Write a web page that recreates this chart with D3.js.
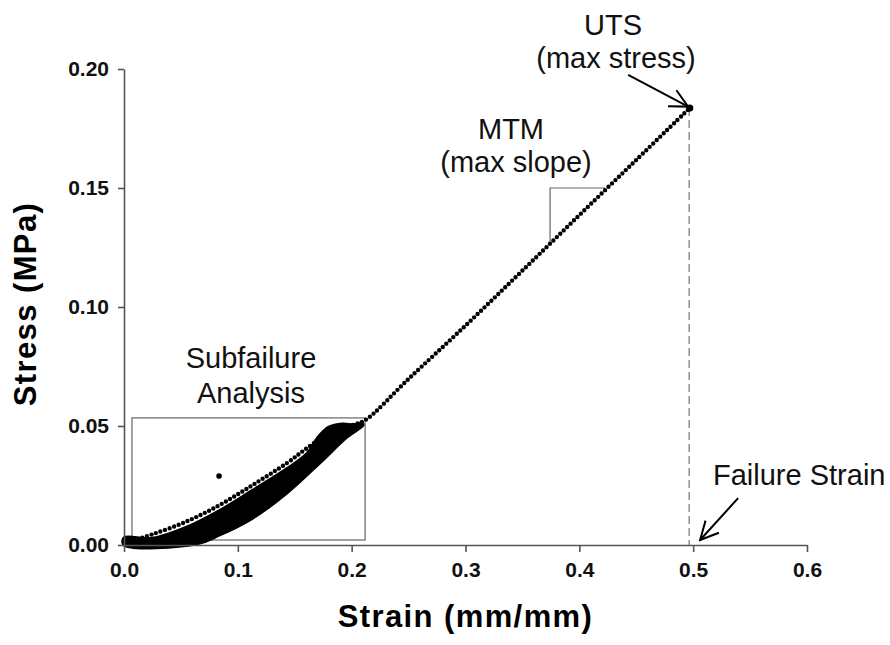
<!DOCTYPE html>
<html>
<head>
<meta charset="utf-8">
<script src="https://cdn.jsdelivr.net/npm/d3@7"></script>
<style>
  body { margin: 0; background: #fff; }
  text { font-family: "Liberation Sans", Arial, sans-serif; }
</style>
</head>
<body>
<div id="vis"></div>
<script>
const FRAME_WIDTH = 890;
const FRAME_HEIGHT = 645;
const MARGINS = {left: 124, right: 83, top: 69, bottom: 100};

// tick values
const xTicks = [0.0, 0.1, 0.2, 0.3, 0.4, 0.5, 0.6];
const yTicks = [0.00, 0.05, 0.10, 0.15, 0.20];

// upper loading curve + linear region up to UTS (strain, stress)
const envStrain = [0.000, 0.005, 0.025, 0.055, 0.084, 0.113, 0.143, 0.161, 0.178, 0.201, 0.212,
                   0.25, 0.30, 0.35, 0.40, 0.45, 0.497];
const envStress = [0.0008, 0.0015, 0.0045, 0.0099, 0.0168, 0.0252, 0.0344, 0.0408, 0.0462, 0.0504, 0.0525,
                   0.0698, 0.0922, 0.1153, 0.1386, 0.1618, 0.1836];

// dense band of subfailure cycles: top edge and bottom edge
const bandTopStrain = [0.000, 0.025, 0.055, 0.084, 0.113, 0.143, 0.161, 0.170, 0.180, 0.192, 0.202, 0.209];
const bandTopStress = [0.003, 0.0028, 0.0075, 0.0145, 0.023, 0.032, 0.0385, 0.045, 0.0495, 0.0508, 0.0505, 0.0512];
const bandBotStrain = [0.000, 0.064, 0.084, 0.113, 0.143, 0.172, 0.196, 0.210];
const bandBotStress = [0.000, 0.0005, 0.0042, 0.0113, 0.0218, 0.0345, 0.0454, 0.0504];

// single outlier point
const outlier = [0.0835, 0.029];

// key points
const uts = [0.497, 0.1836];
const failureStrain = 0.4965;

// annotation boxes (data units)
const subBox = {x0: 0.007, x1: 0.2118, y0: 0.0021, y1: 0.0534};
const mtmBracket = {x0: 0.3743, x1: 0.4227, yLow: 0.1265, yTop: 0.150};

// arrows (data units): [fromStrain, fromStress, toStrain, toStress]
const utsArrow = [0.4429, 0.1975, 0.4956, 0.1842];
const failArrow = [0.5395, 0.0197, 0.5061, 0.0021];

const FRAME = d3.select('#vis')
  .append('svg')
    .attr('width', FRAME_WIDTH)
    .attr('height', FRAME_HEIGHT)
    .style('background', '#fff');

const X_SCALE = d3.scaleLinear().domain([0, 0.6]).range([MARGINS.left, FRAME_WIDTH - MARGINS.right]);
const Y_SCALE = d3.scaleLinear().domain([0, 0.2]).range([FRAME_HEIGHT - MARGINS.bottom, MARGINS.top]);

// arrowhead marker
FRAME.append('defs').append('marker')
  .attr('id', 'arrow')
  .attr('markerUnits', 'userSpaceOnUse')
  .attr('viewBox', '-22 -12 24 24')
  .attr('refX', 0).attr('refY', 0)
  .attr('markerWidth', 24).attr('markerHeight', 24)
  .attr('orient', 'auto')
  .append('path')
    .attr('d', 'M-18,-9 L0,0 L-18,9')
    .attr('fill', 'none')
    .attr('stroke', '#000')
    .attr('stroke-width', 2);

// subfailure box
FRAME.append('rect')
  .attr('x', X_SCALE(subBox.x0))
  .attr('y', Y_SCALE(subBox.y1))
  .attr('width', X_SCALE(subBox.x1) - X_SCALE(subBox.x0))
  .attr('height', Y_SCALE(subBox.y0) - Y_SCALE(subBox.y1))
  .attr('fill', 'none')
  .attr('stroke', '#666')
  .attr('stroke-width', 1.2);

// MTM bracket
FRAME.append('path')
  .attr('d', d3.line()([
    [X_SCALE(mtmBracket.x0), Y_SCALE(mtmBracket.yLow)],
    [X_SCALE(mtmBracket.x0), Y_SCALE(mtmBracket.yTop)],
    [X_SCALE(mtmBracket.x1), Y_SCALE(mtmBracket.yTop)]
  ]))
  .attr('fill', 'none')
  .attr('stroke', '#666')
  .attr('stroke-width', 1.2);

// failure strain dashed line
FRAME.append('line')
  .attr('x1', X_SCALE(failureStrain)).attr('x2', X_SCALE(failureStrain))
  .attr('y1', Y_SCALE(uts[1])).attr('y2', Y_SCALE(0))
  .attr('stroke', '#999')
  .attr('stroke-width', 1.6)
  .attr('stroke-dasharray', '8,4');

// dense band polygon
const bandPts = bandTopStrain.map((d, i) => [X_SCALE(d), Y_SCALE(bandTopStress[i])])
  .concat(bandBotStrain.map((d, i) => [X_SCALE(d), Y_SCALE(bandBotStress[i])]).reverse());
FRAME.append('path')
  .attr('d', d3.line().curve(d3.curveCatmullRomClosed)(bandPts))
  .attr('fill', '#000')
  .attr('stroke', '#000')
  .attr('stroke-width', 3)
  .attr('stroke-linejoin', 'round');

// dotted envelope curve
const envPts = envStrain.map((d, i) => [X_SCALE(d), Y_SCALE(envStress[i])]);
FRAME.append('path')
  .attr('d', d3.line().curve(d3.curveCatmullRom)(envPts))
  .attr('fill', 'none')
  .attr('stroke', '#000')
  .attr('stroke-width', 4.4)
  .attr('stroke-linecap', 'round')
  .attr('stroke-dasharray', '0,4.8');

// outlier + UTS point
FRAME.append('circle')
  .attr('cx', X_SCALE(outlier[0])).attr('cy', Y_SCALE(outlier[1]))
  .attr('r', 2.8).attr('fill', '#000');
FRAME.append('circle')
  .attr('cx', X_SCALE(uts[0])).attr('cy', Y_SCALE(uts[1]))
  .attr('r', 3.6).attr('fill', '#000');

// arrows
[utsArrow, failArrow].forEach(a => {
  FRAME.append('line')
    .attr('x1', X_SCALE(a[0])).attr('y1', Y_SCALE(a[1]))
    .attr('x2', X_SCALE(a[2])).attr('y2', Y_SCALE(a[3]))
    .attr('stroke', '#000')
    .attr('stroke-width', 2)
    .attr('marker-end', 'url(#arrow)');
});

// y axis
const yAxis = FRAME.append('g')
  .attr('transform', 'translate(' + MARGINS.left + ',0)')
  .call(d3.axisLeft(Y_SCALE).tickValues(yTicks).tickFormat(d3.format('.2f')).tickSize(6).tickSizeOuter(0).tickPadding(9));

// x axis
const xAxis = FRAME.append('g')
  .attr('transform', 'translate(0,' + (FRAME_HEIGHT - MARGINS.bottom) + ')')
  .call(d3.axisBottom(X_SCALE).tickValues(xTicks).tickFormat(d3.format('.1f')).tickSize(7).tickSizeOuter(0).tickPadding(10));

[yAxis, xAxis].forEach(g => {
  g.select('.domain').attr('stroke', '#555').attr('stroke-width', 1.6);
  g.selectAll('.tick line').attr('stroke', '#555').attr('stroke-width', 1.6);
  g.selectAll('text')
    .attr('font-family', '"Liberation Sans", Arial, sans-serif')
    .attr('font-size', '21px')
    .attr('font-weight', 'bold')
    .attr('fill', '#111');
});

// axis titles
FRAME.append('text')
  .attr('x', (X_SCALE(0) + X_SCALE(0.6)) / 2)
  .attr('y', 627)
  .attr('text-anchor', 'middle')
  .attr('font-size', '31px')
  .attr('font-weight', 'bold')
  .attr('letter-spacing', '1.4px')
  .text('Strain (mm/mm)');

FRAME.append('text')
  .attr('transform', 'translate(36,' + (Y_SCALE(0.1) - 3) + ') rotate(-90)')
  .attr('text-anchor', 'middle')
  .attr('font-size', '31px')
  .attr('font-weight', 'bold')
  .attr('letter-spacing', '1.4px')
  .text('Stress (MPa)');

// annotations
const notes = [
  {t: 'UTS', x: 613, y: 35},
  {t: '(max stress)', x: 616, y: 68},
  {t: 'MTM', x: 511, y: 139},
  {t: '(max slope)', x: 516, y: 172},
  {t: 'Subfailure', x: 251, y: 368},
  {t: 'Analysis', x: 251, y: 403}
];
FRAME.selectAll('.note')
  .data(notes)
  .enter()
  .append('text')
    .attr('class', 'note')
    .attr('x', d => d.x)
    .attr('y', d => d.y)
    .attr('text-anchor', 'middle')
    .attr('font-size', '29px')
    .attr('fill', '#111')
    .text(d => d.t);

FRAME.append('text')
  .attr('x', 713)
  .attr('y', 485)
  .attr('font-size', '29px')
  .attr('fill', '#111')
  .text('Failure Strain');
</script>
</body>
</html>
